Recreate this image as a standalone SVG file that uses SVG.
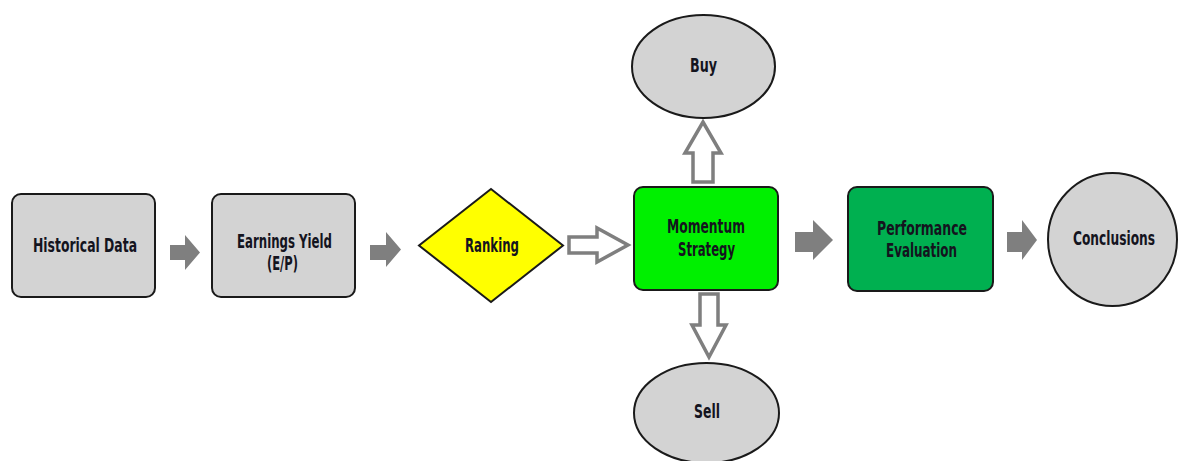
<svg xmlns="http://www.w3.org/2000/svg" width="1179" height="461" viewBox="0 0 1179 461">
<style>
.box{stroke:#1a1a1a;stroke-width:2}
.gray{fill:#d3d3d3}
.t{font-family:"Liberation Sans Narrow","DejaVu Sans Condensed","Liberation Sans",sans-serif;font-weight:bold;font-size:19px;fill:#14141e;text-anchor:middle}
.solid{fill:#7f7f7f;stroke:none}
.hollow{fill:#ffffff;stroke:#7f7f7f;stroke-width:3.5;stroke-linejoin:miter}
</style>
<rect width="1179" height="461" fill="#ffffff"/>
<g id="connectors">
<path class="solid" d="M170,245 L185,245 L185,235 L200,252.5 L185,270 L185,260 L170,260 Z"/>
<path class="solid" d="M370,245 L386,245 L386,232 L401,249.5 L386,267 L386,260 L370,260 Z"/>
<path class="hollow" d="M569,237 L597,237 L597,228 L628,245 L597,262 L597,253 L569,253 Z"/>
<path class="hollow" d="M693,182 L693,153 L685,153 L703,122 L721,153 L713,153 L713,182 Z"/>
<path class="hollow" d="M700,294 L718,294 L718,325 L726,325 L709,357 L692,325 L700,325 Z"/>
<path class="solid" d="M795,232 L813,232 L813,220 L833,240 L813,260 L813,252 L795,252 Z"/>
<path class="solid" d="M1007,232 L1022,232 L1022,220 L1037,240 L1022,260 L1022,252 L1007,252 Z"/>
</g>
<g id="historical">
<rect class="box gray" x="12" y="194" width="143" height="103" rx="9"/>
<text class="t" x="85" y="252" textLength="104" lengthAdjust="spacingAndGlyphs">Historical Data</text>
</g>
<g id="earnings">
<rect class="box gray" x="212" y="194" width="143" height="103" rx="9"/>
<text class="t" x="284.5" y="248" textLength="95" lengthAdjust="spacingAndGlyphs">Earnings Yield</text>
<text class="t" x="282.5" y="270" textLength="31" lengthAdjust="spacingAndGlyphs">(E/P)</text>
</g>
<g id="ranking">
<polygon class="box" fill="#ffff00" points="491,189 563,245.5 491,302 419,245.5"/>
<text class="t" x="492" y="252" textLength="54" lengthAdjust="spacingAndGlyphs">Ranking</text>
</g>
<g id="momentum">
<rect class="box" fill="#00f000" x="634" y="187" width="144" height="103" rx="9"/>
<text class="t" x="706" y="233" textLength="78" lengthAdjust="spacingAndGlyphs">Momentum</text>
<text class="t" x="706.5" y="256" textLength="57" lengthAdjust="spacingAndGlyphs">Strategy</text>
</g>
<g id="buy">
<ellipse class="box gray" cx="703.5" cy="66.5" rx="71.5" ry="51.5"/>
<text class="t" x="703.5" y="72" textLength="27" lengthAdjust="spacingAndGlyphs">Buy</text>
</g>
<g id="sell">
<ellipse class="box gray" cx="706.5" cy="413" rx="72.5" ry="50"/>
<text class="t" x="707" y="418" textLength="26" lengthAdjust="spacingAndGlyphs">Sell</text>
</g>
<g id="performance">
<rect class="box" fill="#00b050" x="848" y="187" width="145" height="104" rx="9"/>
<text class="t" x="922" y="235" textLength="90" lengthAdjust="spacingAndGlyphs">Performance</text>
<text class="t" x="921.5" y="257" textLength="71" lengthAdjust="spacingAndGlyphs">Evaluation</text>
</g>
<g id="conclusions">
<ellipse class="box gray" cx="1112.5" cy="239.5" rx="64.5" ry="66.5"/>
<text class="t" x="1114" y="245" textLength="82" lengthAdjust="spacingAndGlyphs">Conclusions</text>
</g>
</svg>
